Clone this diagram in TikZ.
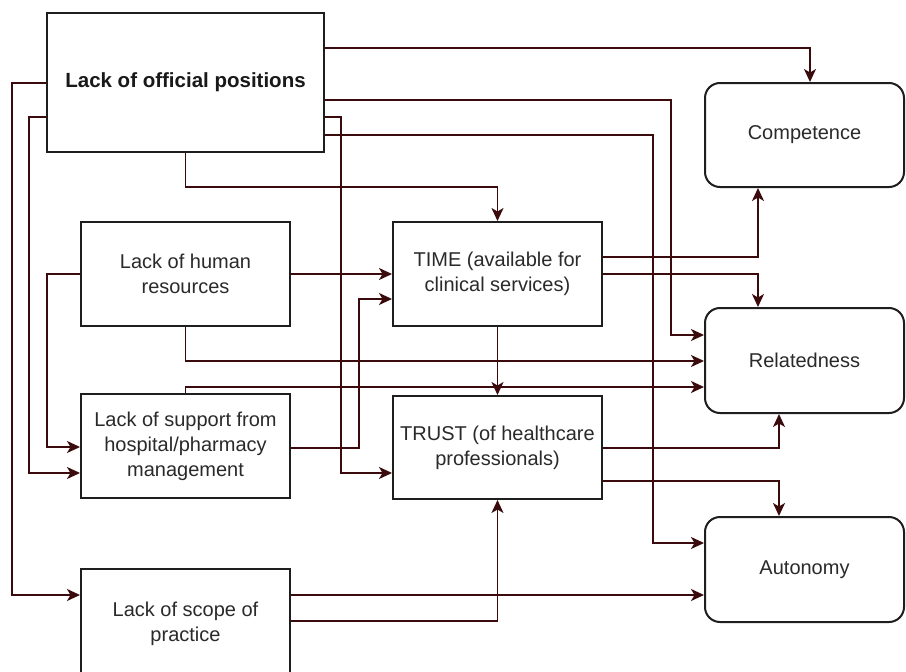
\documentclass[tikz,border=0pt]{standalone}
\usepackage{fontspec}
\setmainfont{Liberation Sans}
\usetikzlibrary{arrows.meta}
\definecolor{conn}{HTML}{3A0A0C}
\definecolor{boxline}{HTML}{1E1E1E}
\definecolor{txt}{HTML}{2A2A2A}
\begin{document}
\begin{tikzpicture}[x=1pt,y=-1pt,
  box/.style={draw=boxline,line width=2pt,fill=white,rectangle,align=center,
    text=txt,font=\fontsize{20}{25}\selectfont,inner sep=0pt},
  rbox/.style={box,rounded corners=15pt},
  arr/.style={draw=conn,line width=1.8pt,-{Stealth[length=13pt,width=12pt,inset=3.5pt]}}]
\useasboundingbox (0,0) rectangle (906,672);
\clip (0,0) rectangle (906,672);
\fill[white] (0,0) rectangle (906,672);
% nodes
\node[box,minimum width=277pt,minimum height=139pt,text=black!90,font=\fontsize{20.5}{25}\selectfont\bfseries] (off) at (185.5,82.5) {Lack of official positions};
\node[box,minimum width=209pt,minimum height=104pt] (hum) at (185.5,274) {Lack of human\\resources};
\node[box,minimum width=209pt,minimum height=104pt] (sup) at (185.5,446) {Lack of support from\\hospital/pharmacy\\management};
\node[box,minimum width=209pt,minimum height=110pt] (scp) at (185.5,624) {Lack of scope of\\practice};
\node[box,minimum width=209pt,minimum height=104pt] (time) at (497.5,274) {TIME (available for\\clinical services)};
\node[box,minimum width=209pt,minimum height=103pt] (trust) at (497.5,447.5) {TRUST (of healthcare\\professionals)};
\node[rbox,minimum width=199pt,minimum height=104pt] (comp) at (804.5,135) {Competence};
\node[rbox,minimum width=199pt,minimum height=105pt] (rel) at (804.5,360.5) {Relatedness};
\node[rbox,minimum width=199pt,minimum height=105pt] (aut) at (804.5,569.5) {Autonomy};
% connectors from Lack of official positions
\draw[arr] (off.east |- 0,48) -| (comp.north -| 810,0);
\draw[arr] (off.east |- 0,100) -| (671,335) -- (rel.west |- 0,335);
\draw[arr] (off.east |- 0,135) -| (653,543) -- (aut.west |- 0,543);
\draw[arr] (off.east |- 0,117) -| (341,473) -- (trust.west |- 0,473);
\draw[arr] (off.south) |- (time.north |- 0,187) -- (time.north);
\draw[arr] (off.west |- 0,83) -| (12,595) -- (scp.west |- 0,595);
\draw[arr] (off.west |- 0,117) -| (29,473) -- (sup.west |- 0,473);
% from Lack of human resources
\draw[arr] (hum.west) -| (47,447) -- (sup.west |- 0,447);
\draw[arr] (hum.east) -- (time.west);
\draw[arr] (hum.south) |- (rel.west |- 0,361);
% from Lack of support
\draw[arr] (sup.north) |- (rel.west |- 0,387);
\draw[arr] (sup.east |- 0,448) -| (359,299) -- (time.west |- 0,299);
% from TIME
\draw[arr] (time.east |- 0,257) -| (comp.south -| 758,0);
\draw[arr] (time.east) -| (rel.north -| 758,0);
\draw[arr] (time.south) -- (trust.north);
% from TRUST
\draw[arr] (trust.east |- 0,448) -| (rel.south -| 779,0);
\draw[arr] (trust.east |- 0,481) -| (aut.north -| 779,0);
% from Lack of scope of practice
\draw[arr] (scp.east |- 0,595) -- (aut.west |- 0,595);
\draw[arr] (scp.east |- 0,621) -| (trust.south);
\end{tikzpicture}
\end{document}
